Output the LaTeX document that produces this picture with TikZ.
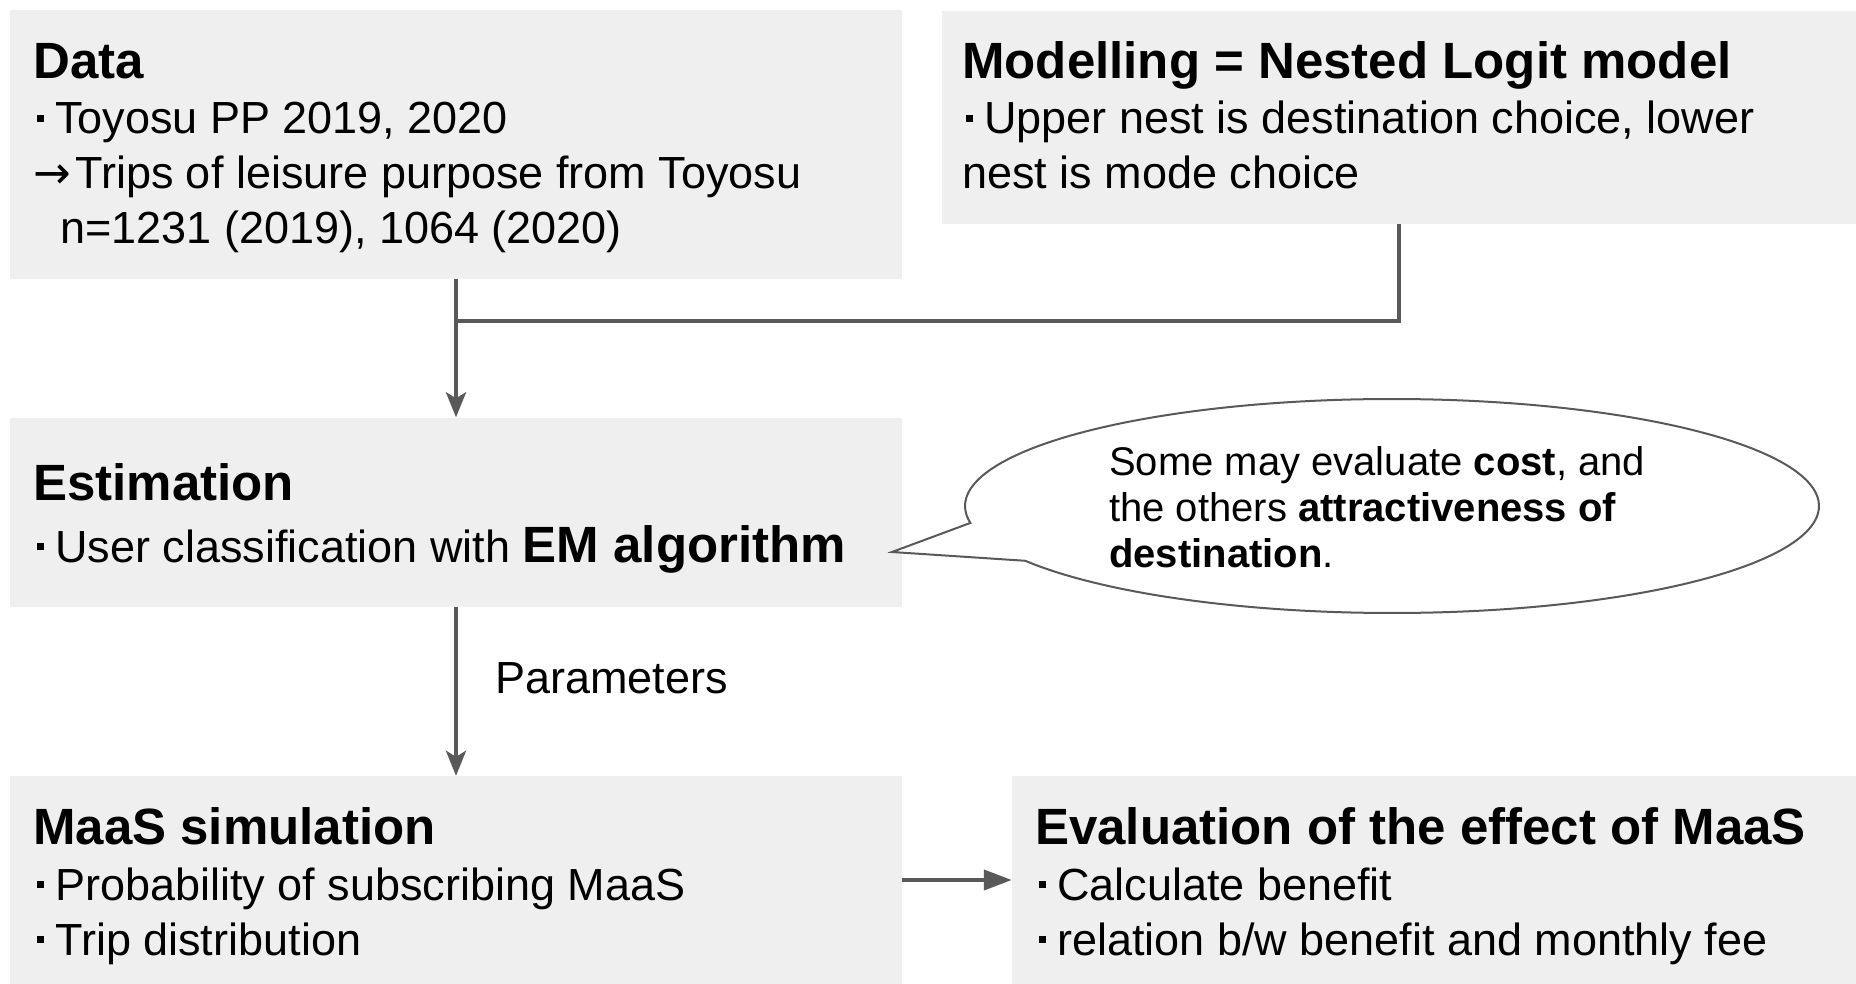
\documentclass[tikz,border=0pt]{standalone}
\usepackage{fontspec}
\setmainfont{Liberation Sans}
\newfontfamily\symfont{DejaVu Sans}
\usetikzlibrary{arrows.meta}
\definecolor{boxgray}{HTML}{EFEFEF}
\definecolor{linegray}{HTML}{595959}
\newcommand\sqbul{\hspace*{4pt}\rule[12pt]{7pt}{7pt}\hspace*{11pt}}
\newcommand\rarr{\makebox[42pt][l]{{\symfont →}}}
\newcommand\headfont{\fontsize{51}{60}\selectfont\bfseries}
\newcommand\bodyfont{\fontsize{45}{54}\selectfont}
\newcommand\notefont{\fontsize{40}{46}\selectfont}
\tikzset{
  box/.style={draw=none, fill=boxgray, inner sep=0pt},
  txt/.style={anchor=base west, inner sep=0pt},
  conn/.style={draw=linegray, line width=4pt},
  arrv/.style={conn, -{Stealth[length=25pt, width=20pt, inset=6pt]}},
  arrh/.style={conn, -{Triangle[length=28pt, width=20pt]}},
  callout/.style={draw=linegray, line width=2pt, fill=white, line join=miter}
}
\begin{document}
\begin{tikzpicture}[x=1pt, y=-1pt]
\useasboundingbox (0,0) rectangle (1856,984);
% boxes
\node[box, minimum width=892pt, minimum height=269pt] (data) at (456,144.5) {};
\node[box, minimum width=914pt, minimum height=213pt] (model) at (1399,117.5) {};
\node[box, minimum width=892pt, minimum height=189pt] (est) at (456,512) {};
\node[box, minimum width=892pt, minimum height=208pt] (maas) at (456,880) {};
\node[box, minimum width=844pt, minimum height=208pt] (eval) at (1434,880) {};
% connectors
\coordinate (j) at (456,321);
\draw[conn] (model.south) |- (j);
\draw[arrv] (data.south) -- (est.north);
\draw[arrv] (est.south) -- (maas.north);
\draw[arrh] (maas.east) -- (eval.west);
\node[txt] (param) at (495,693) {\bodyfont Parameters};
% callout
\coordinate (tip) at (892,552);
\draw[callout] plot[domain=170.9:509.2, samples=150, smooth] ({1392+427*cos(\x)},{506+107*sin(\x)}) -- (tip) -- cycle;
\node[txt] (c1) at (1109,475) {\notefont Some may evaluate \textbf{cost}, and};
\node[txt] (c2) at (1109,521) {\notefont the others \textbf{attractiveness of}};
\node[txt] (c3) at (1109,567) {\notefont \textbf{destination}.};
% Data text
\node[txt] (d0) at (33,79) {\headfont Data};
\node[txt] (d1) at (33,134) {\bodyfont\sqbul Toyosu PP 2019, 2020};
\node[txt] (d2) at (33,189) {\bodyfont\rarr Trips of leisure purpose from Toyosu};
\node[txt] (d3) at (60,244) {\bodyfont n=1231 (2019), 1064 (2020)};
% Model text
\node[txt] (m0) at (962,79) {\headfont Modelling = Nested Logit model};
\node[txt] (m1) at (962,134) {\bodyfont\sqbul Upper nest is destination choice, lower};
\node[txt] (m2) at (962,189) {\bodyfont nest is mode choice};
% Estimation text
\node[txt] (e0) at (33,500) {\headfont Estimation};
\node[txt] (e1) at (33,562) {\bodyfont\sqbul User classification with {\headfont EM algorithm}};
% MaaS text
\node[txt] (s0) at (33,844) {\headfont MaaS simulation};
\node[txt] (s1) at (33,900) {\bodyfont\sqbul Probability of subscribing MaaS};
\node[txt] (s2) at (33,955) {\bodyfont\sqbul Trip distribution};
% Evaluation text
\node[txt] (v0) at (1035,844) {\headfont Evaluation of the effect of MaaS};
\node[txt] (v1) at (1035,900) {\bodyfont\sqbul Calculate benefit};
\node[txt] (v2) at (1035,955) {\bodyfont\sqbul relation b/w benefit and monthly fee};
\end{tikzpicture}
\end{document}
